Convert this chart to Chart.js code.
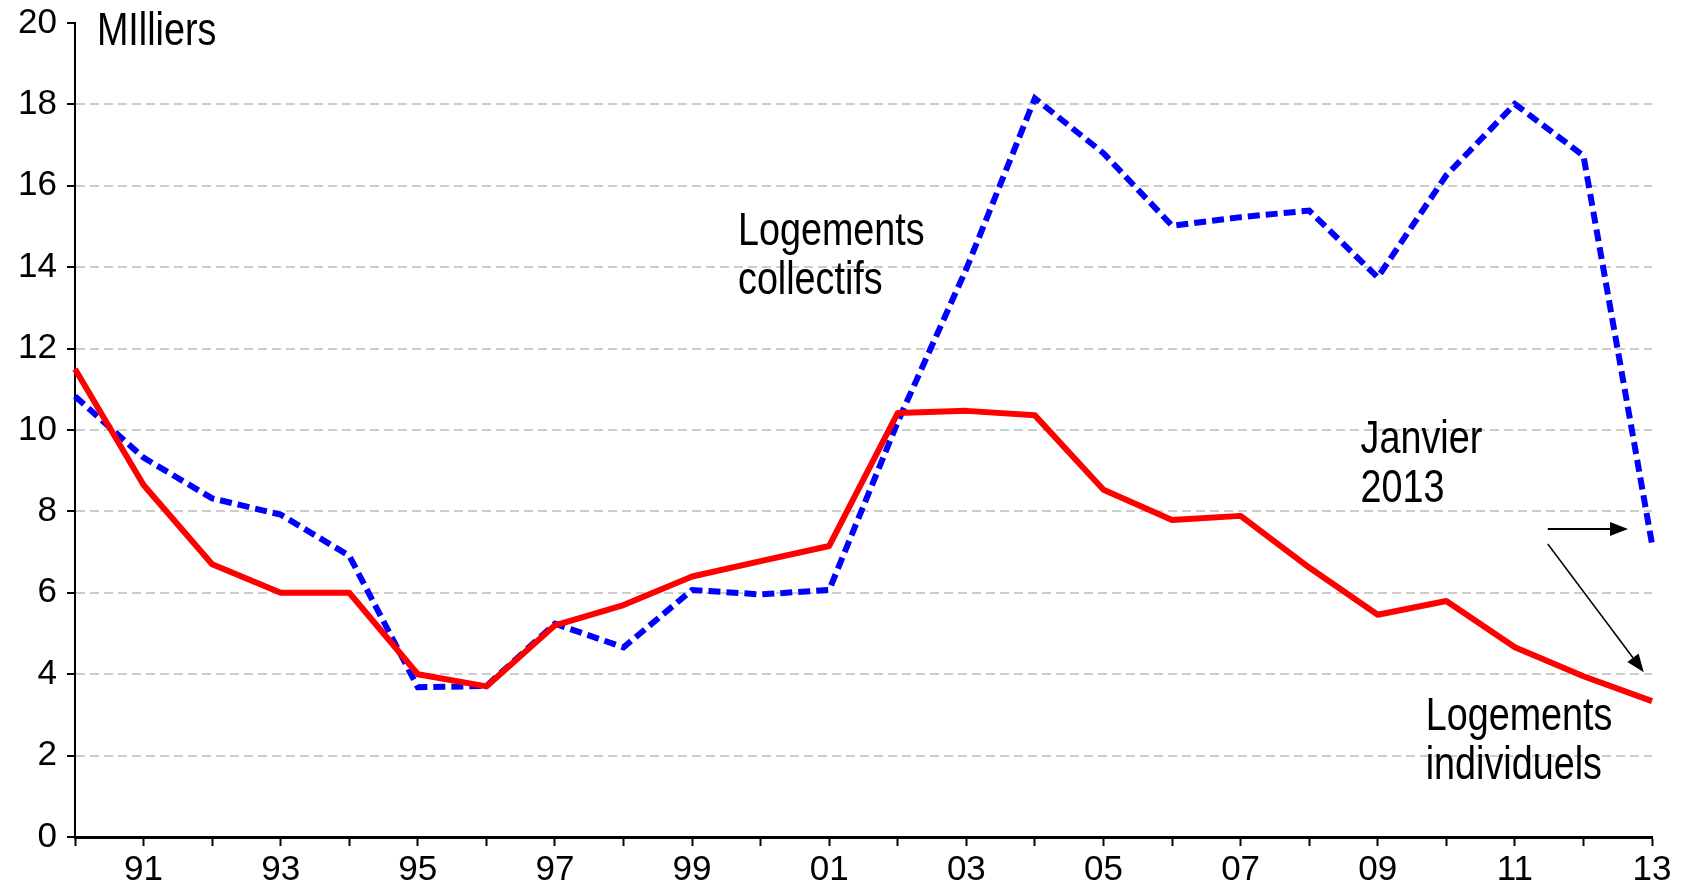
<!DOCTYPE html>
<html>
<head>
<meta charset="utf-8">
<script src="https://cdn.jsdelivr.net/npm/chart.js@4.4.1/dist/chart.umd.min.js"></script>
<style>
  html, body { margin: 0; padding: 0; background: #fff; }
  #wrap { width: 1688px; height: 886px; }
</style>
</head>
<body>
<div id="wrap"><canvas id="chart-logements"></canvas></div>
<script>
// annees 1990 -> 2013
const years = ['90','91','92','93','94','95','96','97','98','99','00','01',
               '02','03','04','05','06','07','08','09','10','11','12','13'];

// milliers de logements
const individuels = [11.5, 8.65, 6.7, 6.0, 6.0, 4.0, 3.7, 5.2, 5.7, 6.4, 6.78, 7.15,
                     10.42, 10.47, 10.36, 8.53, 7.79, 7.89, 6.62, 5.46, 5.8, 4.66, 3.95, 3.34];
const collectifs = [10.83, 9.32, 8.32, 7.92, 6.91, 3.68, 3.71, 5.24, 4.66, 6.07, 5.96, 6.07,
                    10.2, 13.96, 18.15, 16.8, 15.02, 15.23, 15.39, 13.75, 16.26, 18.01, 16.74, 7.2];

const yTickValues = [0, 2, 4, 6, 8, 10, 12, 14, 16, 18, 20];

// is Liberation Sans Narrow there ?
function hasNarrow() {
  const c = document.createElement('canvas').getContext('2d');
  c.font = '40px "Liberation Sans Narrow", monospace';
  const a = c.measureText('Logements individuels').width;
  c.font = '40px monospace';
  const b = c.measureText('Logements individuels').width;
  return a !== b;
}
const narrow = hasNarrow();

const notesPlugin = {
  id: 'notes',
  afterDraw(chart) {
    const ctx = chart.ctx;
    const x = chart.scales.x, y = chart.scales.y;
    const texts = [
      { lines: ['MIlliers'], at: [0.32, 19.46] },
      { lines: ['Logements', 'collectifs'], at: [9.67, 14.55] },
      { lines: ['Janvier', '2013'], at: [18.75, 9.43] },
      { lines: ['Logements', 'individuels'], at: [19.7, 2.63] }
    ];
    ctx.save();
    ctx.fillStyle = '#000';
    ctx.textBaseline = 'alphabetic';
    ctx.textAlign = 'left';
    texts.forEach(t => {
      const px = x.getPixelForValue(t.at[0]);
      const py = y.getPixelForValue(t.at[1]);
      t.lines.forEach((l, i) => {
        ctx.save();
        ctx.translate(px, py + i * 49);
        if (narrow) {
          ctx.font = '46px "Liberation Sans Narrow"';
        } else {
          ctx.font = '46px "Liberation Sans", Arial';
          ctx.scale(0.82, 1);
        }
        ctx.fillText(l, 0, 0);
        ctx.restore();
      });
    });

    const arrow = (a, b, w) => {
      const x1 = x.getPixelForValue(a[0]), y1 = y.getPixelForValue(a[1]);
      const x2 = x.getPixelForValue(b[0]), y2 = y.getPixelForValue(b[1]);
      const ang = Math.atan2(y2 - y1, x2 - x1);
      const len = 18, half = 7;
      ctx.strokeStyle = '#000';
      ctx.lineWidth = w;
      ctx.beginPath();
      ctx.moveTo(x1, y1);
      ctx.lineTo(x2 - Math.cos(ang) * len, y2 - Math.sin(ang) * len);
      ctx.stroke();
      ctx.beginPath();
      ctx.moveTo(x2, y2);
      ctx.lineTo(x2 - Math.cos(ang) * len - Math.sin(ang) * half, y2 - Math.sin(ang) * len + Math.cos(ang) * half);
      ctx.lineTo(x2 - Math.cos(ang) * len + Math.sin(ang) * half, y2 - Math.sin(ang) * len - Math.cos(ang) * half);
      ctx.closePath();
      ctx.fillStyle = '#000';
      ctx.fill();
    };
    arrow([21.48, 7.57], [22.65, 7.57], 2);
    arrow([21.48, 7.2], [22.88, 4.05], 1.5);
    ctx.restore();
  }
};

window.onload = function(){

    let myChart = new Chart(
        document.getElementById("chart-logements"),
        {
            type: 'line',
            data: {
                labels: years,
                datasets: [{
                    label: 'Logements individuels',
                    data: individuels,
                    borderColor: '#ff0000',
                    borderWidth: 6,
                    pointRadius: 0,
                    tension: 0,
                    borderJoinStyle: 'round'
                }, {
                    label: 'Logements collectifs',
                    data: collectifs,
                    borderColor: '#0000ff',
                    borderWidth: 6,
                    borderDash: [12, 6],
                    pointRadius: 0,
                    tension: 0
                }]
            },
            options: {
                responsive: true,
                maintainAspectRatio: false,
                animation: false,
                layout: { padding: { top: 23, right: 36, left: 0, bottom: 0 } },
                plugins: {
                    legend: { display: false },
                    tooltip: { enabled: false }
                },
                scales: {
                    x: {
                        type: 'category',
                        offset: false,
                        afterFit: s => { s.height = 49; s.paddingLeft = 0; s.paddingRight = 0; },
                        grid: {
                            drawOnChartArea: false,
                            drawTicks: true,
                            tickLength: 9,
                            tickColor: '#000',
                            tickWidth: 2
                        },
                        border: { color: '#000', width: 3 },
                        ticks: {
                            autoSkip: false,
                            maxRotation: 0,
                            padding: 3,
                            color: '#000',
                            font: { family: '"Liberation Sans", Arial', size: 35 },
                            callback: function(v, i) { return i % 2 === 1 ? this.getLabelForValue(v) : ''; }
                        }
                    },
                    y: {
                        min: 0,
                        max: 20,
                        afterFit: s => { s.width = 75; s.paddingTop = 0; s.paddingBottom = 0; },
                        afterBuildTicks: s => { s.ticks = yTickValues.map(v => ({ value: v })); },
                        grid: {
                            color: c => (c.tick && (c.tick.value === 0 || c.tick.value === 20)) ? 'rgba(0,0,0,0)' : '#cccccc',
                            lineWidth: 2,
                            tickLength: 8,
                            tickColor: '#000',
                            tickWidth: 2,
                            tickBorderDash: []
                        },
                        border: { color: '#000', width: 2, dash: [9, 5] },
                        ticks: {
                            padding: 10,
                            color: '#000',
                            font: { family: '"Liberation Sans", Arial', size: 35 }
                        }
                    }
                }
            },
            plugins: [notesPlugin]
        }
    );
}
</script>
</body>
</html>
